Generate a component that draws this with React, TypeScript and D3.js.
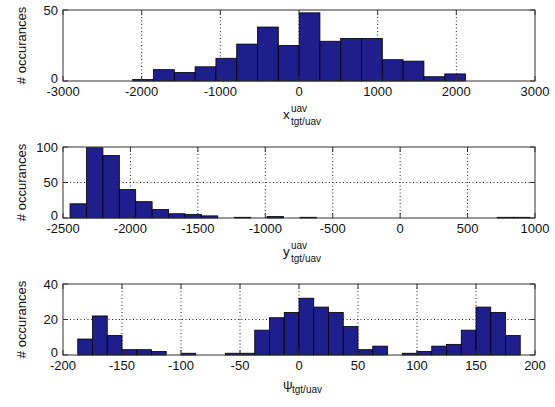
import React from "react";
import * as d3 from "d3";

// histogram data (bin centres + counts)
const xBinCenters = [-1982, -1717, -1453, -1189, -924, -660, -395, -131, 134, 398, 662, 927, 1191, 1456, 1720, 1985];
const xCounts = [1, 8, 6, 10, 16, 26, 38, 25, 48, 28, 30, 30, 15, 14, 3, 5];
const xTicks = [-3000, -2000, -1000, 0, 1000, 2000, 3000];
const xCountTicks = [0, 50];

const yBinCenters = [-2387, -2265, -2143, -2022, -1900, -1778, -1656, -1535, -1413, -1291, -1169, -1047, -926, -804,
  -682, -560, -438, -317, -195, -73, 49, 171, 293, 414, 536, 658, 780, 902];
const yCounts = [20, 99, 88, 40, 23, 12, 6, 5, 3, 0, 1, 0, 2, 0, 1, 0, 0, 0, 0, 0, 0, 0, 0, 0, 0, 0, 1, 1];
const yTicks = [-2500, -2000, -1500, -1000, -500, 0, 500, 1000];
const yCountTicks = [0, 50, 100];

const psiBinCenters = [-181.25, -168.75, -156.25, -143.75, -131.25, -118.75, -106.25, -93.75, -81.25, -68.75,
  -56.25, -43.75, -31.25, -18.75, -6.25, 6.25, 18.75, 31.25, 43.75, 56.25, 68.75, 81.25, 93.75, 106.25, 118.75,
  131.25, 143.75, 156.25, 168.75, 181.25];
const psiCounts = [9, 22, 11, 3, 3, 2, 0, 1, 0, 0, 1, 1, 14, 21, 24, 32, 27, 24, 16, 3, 5, 0, 1, 2, 5, 6, 14, 27, 24, 11];
const psiTicks = [-200, -150, -100, -50, 0, 50, 100, 150, 200];
const psiCountTicks = [0, 20, 40];

const FONT = "'Liberation Sans', Arial, sans-serif";
const left = 63;
const right = 535;
const plotH = 71;
const tickLen = 5;

type HistProps = {
  top: number;
  centers: number[];
  counts: number[];
  ticks: number[];
  countTicks: number[];
  binWidth: number;
  label: React.ReactNode;
};

const Hist = ({ top, centers, counts, ticks, countTicks, binWidth, label }: HistProps) => {
  const x = d3.scaleLinear().domain([ticks[0], ticks[ticks.length - 1]]).range([left, right]);
  const y = d3.scaleLinear().domain([0, countTicks[countTicks.length - 1]]).range([top + plotH, top]);
  const bottom = top + plotH;

  return (
    <g>
      {/* grid */}
      {ticks.slice(1, -1).map(t => (
        <line key={"gx" + t} x1={x(t)} x2={x(t)} y1={top} y2={bottom}
          stroke="#222" strokeWidth={1} strokeDasharray="1,2.5" />
      ))}
      {countTicks.slice(1, -1).map(t => (
        <line key={"gy" + t} x1={left} x2={right} y1={y(t)} y2={y(t)}
          stroke="#222" strokeWidth={1} strokeDasharray="1,2.5" />
      ))}

      {/* bars */}
      {centers.map((c, i) => counts[i] > 0 && (
        <rect key={i} x={x(c - binWidth / 2)} width={x(c + binWidth / 2) - x(c - binWidth / 2)}
          y={y(counts[i])} height={y(0) - y(counts[i])}
          fill="#1e1e8c" stroke="#000" strokeWidth={0.8} />
      ))}

      {/* box */}
      <rect x={left} y={top} width={right - left} height={plotH} fill="none" stroke="#333" strokeWidth={1} />

      {/* ticks */}
      {ticks.map(t => (
        <g key={"tx" + t}>
          <line x1={x(t)} x2={x(t)} y1={bottom} y2={bottom - tickLen} stroke="#333" />
          <line x1={x(t)} x2={x(t)} y1={top} y2={top + tickLen} stroke="#333" />
          <text x={x(t)} y={bottom + 15} textAnchor="middle" fontSize={13} fontFamily={FONT} fill="#111">{t}</text>
        </g>
      ))}
      {countTicks.map(t => (
        <g key={"ty" + t}>
          <line x1={left} x2={left + tickLen} y1={y(t)} y2={y(t)} stroke="#333" />
          <line x1={right} x2={right - tickLen} y1={y(t)} y2={y(t)} stroke="#333" />
          <text x={left - 5} y={y(t) + (t === 0 ? 2 : 4.5)} textAnchor="end" fontSize={13} fontFamily={FONT} fill="#111">{t}</text>
        </g>
      ))}

      <text transform={`translate(26,${top + plotH / 2}) rotate(-90)`} textAnchor="middle"
        fontSize={13} fontFamily={FONT} fill="#111"># occurances</text>
      <g transform={`translate(${(left + right) / 2},${bottom})`}>{label}</g>
    </g>
  );
};

const SubSup = ({ main, sup, sub }: { main: string; sup?: string; sub: string }) => (
  <g fontFamily={FONT} fill="#111">
    <text x={-16} y={sup ? 38 : 34} fontSize={13.5}>{main}</text>
    {sup && <text x={-8} y={31} fontSize={10}>{sup}</text>}
    <text x={main === "x" || main === "y" ? -8 : -7} y={sup ? 44 : 38} fontSize={10}>{sub}</text>
  </g>
);

export default function App() {
  return (
    <svg width={555} height={407} style={{ position: "absolute", left: 0, top: 0, background: "#fff" }}>
      <Hist top={10} centers={xBinCenters} counts={xCounts} ticks={xTicks} countTicks={xCountTicks}
        binWidth={264} label={<SubSup main="x" sup="uav" sub="tgt/uav" />} />
      <Hist top={147} centers={yBinCenters} counts={yCounts} ticks={yTicks} countTicks={yCountTicks}
        binWidth={121.8} label={<SubSup main="y" sup="uav" sub="tgt/uav" />} />
      <Hist top={284} centers={psiBinCenters} counts={psiCounts} ticks={psiTicks} countTicks={psiCountTicks}
        binWidth={12.5} label={<SubSup main="ψ" sub="tgt/uav" />} />
    </svg>
  );
}
